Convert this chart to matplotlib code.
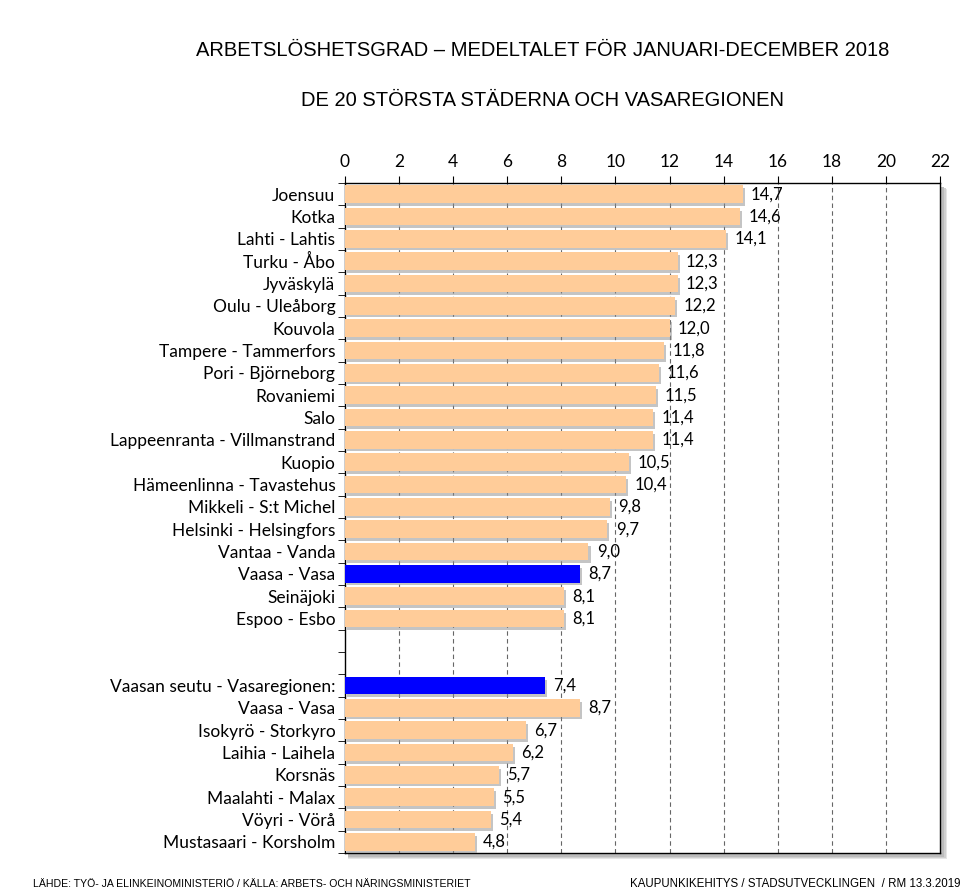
import matplotlib
matplotlib.use("Agg")
import matplotlib.pyplot as plt
import matplotlib.patheffects as pe
from matplotlib.patches import Rectangle
import numpy as np

cities = ["Joensuu", "Kotka", "Lahti - Lahtis", "Turku - Åbo", "Jyväskylä",
          "Oulu - Uleåborg", "Kouvola", "Tampere - Tammerfors", "Pori - Björneborg",
          "Rovaniemi", "Salo", "Lappeenranta - Villmanstrand", "Kuopio",
          "Hämeenlinna - Tavastehus", "Mikkeli - S:t Michel", "Helsinki - Helsingfors",
          "Vantaa - Vanda", "Vaasa - Vasa", "Seinäjoki", "Espoo - Esbo"]
city_values = [14.7, 14.6, 14.1, 12.3, 12.3, 12.2, 12.0, 11.8, 11.6, 11.5, 11.4,
               11.4, 10.5, 10.4, 9.8, 9.7, 9.0, 8.7, 8.1, 8.1]

region = ["Vaasan seutu - Vasaregionen:", "Vaasa - Vasa", "Isokyrö - Storkyro",
          "Laihia - Laihela", "Korsnäs", "Maalahti - Malax", "Vöyri - Vörå",
          "Mustasaari - Korsholm"]
region_values = [7.4, 8.7, 6.7, 6.2, 5.7, 5.5, 5.4, 4.8]

n_blank = 2

labels = cities + [""] * n_blank + region
values = city_values + [np.nan] * n_blank + region_values
# Vaasa itself (in the city list) and the region total are blue
colors = ["#FFCC99"] * len(labels)
colors[cities.index("Vaasa - Vasa")] = "#0000FF"
colors[len(cities) + n_blank] = "#0000FF"

n = len(labels)
y = np.arange(n)

fig = plt.figure(figsize=(9.79, 8.93), dpi=100)
pos = [0.3524, 0.0448, 0.6078, 0.7503]
ax = fig.add_axes(pos)
ax.set_zorder(2)

# soft shadow behind plot box
for k, c in enumerate(["#e6e6e6", "#d0d0d0", "#bcbcbc"]):
    d = 0.0025 * (3 - k)
    sh = Rectangle((pos[0] + 0.003, pos[1] - 0.004 - d * 0.3), pos[2] + d * 0.6, pos[3],
                   transform=fig.transFigure, facecolor=c, edgecolor="none",
                   zorder=1)
    fig.patches.append(sh)
ax.set_facecolor("white")

bars = ax.barh(y, values, height=0.78, color=colors, zorder=3)
for b in bars:
    b.set_path_effects([pe.SimplePatchShadow(offset=(1.5, -2), shadow_rgbFace="#8a8a8a", alpha=0.5),
                        pe.Normal()])

for yi, v in zip(y, values):
    if np.isnan(v):
        continue
    ax.annotate(f"{v:.1f}".replace(".", ","), (v, yi), xytext=(6, 0),
                textcoords="offset points", va="center", ha="left",
                fontsize=12, family="Lato", zorder=4)

ax.set_xlim(0, 22)
ax.set_ylim(n - 0.5, -0.5)
ax.set_xticks(np.arange(0, 23, 2))
ax.xaxis.tick_top()
ax.tick_params(axis="x", direction="out", length=5, labelsize=12.5, pad=4)
for t in ax.get_xticklabels():
    t.set_family("Lato")
for xv in np.arange(2, 22, 2):
    ax.axvline(xv, color="#666666", linestyle=(0, (4, 3)), linewidth=0.8, zorder=1)

ax.set_yticks(y)
ax.set_yticklabels(labels, fontsize=12.5, family="Lato")
ax.set_yticks(np.arange(n + 1) - 0.5, minor=True)
ax.tick_params(axis="y", which="major", length=0, pad=7)
ax.tick_params(axis="y", which="minor", length=5, direction="out")

for s in ax.spines.values():
    s.set_color("black")
    s.set_linewidth(1.0)

fig.text(0.554, 0.944, "ARBETSLÖSHETSGRAD – MEDELTALET FÖR JANUARI-DECEMBER 2018",
         ha="center", va="center", fontsize=14.5, family="Liberation Sans")
fig.text(0.554, 0.887, "DE 20 STÖRSTA STÄDERNA OCH VASAREGIONEN",
         ha="center", va="center", fontsize=14.5, family="Liberation Sans")
fig.text(0.034, 0.010, "LÄHDE: TYÖ- JA ELINKEINOMINISTERIÖ / KÄLLA: ARBETS- OCH NÄRINGSMINISTERIET",
         ha="left", va="center", fontsize=7.6, family="Liberation Sans")
fig.text(0.981, 0.010, "KAUPUNKIKEHITYS / STADSUTVECKLINGEN  / RM 13.3.2019",
         ha="right", va="center", fontsize=8.3, family="Liberation Sans")

fig.savefig("out.png", dpi=100, facecolor="white")
